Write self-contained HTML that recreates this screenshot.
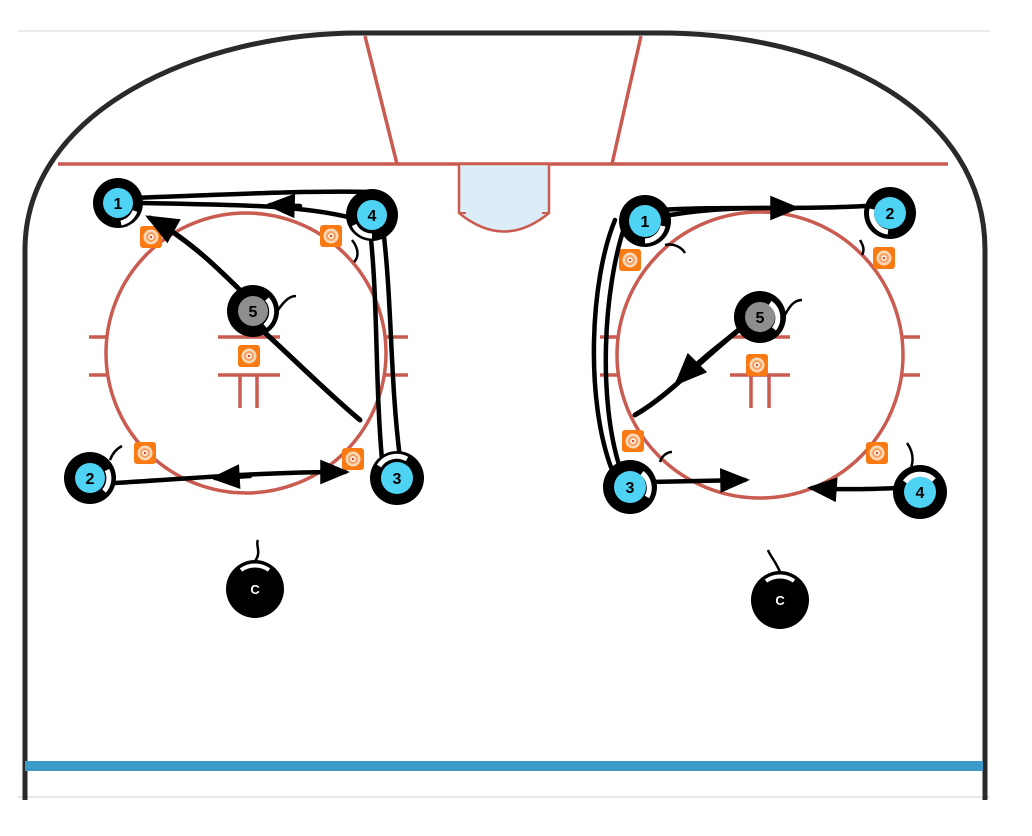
<!DOCTYPE html>
<html><head><meta charset="utf-8"><style>
html,body{margin:0;padding:0;background:#fff;width:1032px;height:836px;overflow:hidden}
svg{display:block}
text{font-family:"Liberation Sans",sans-serif;font-weight:bold}
</style></head><body>
<svg width="1032" height="836" viewBox="0 0 1032 836">
<defs>
<g id="cone"><rect x="-11" y="-11" width="22" height="22" rx="3" fill="#f97a12"/><circle r="7.5" fill="#fbd9b8"/><circle r="5" fill="#f5a060"/><circle r="2.8" fill="#fff"/><circle r="1.3" fill="#e0501a"/></g>
<marker id="ah" viewBox="0 0 12 10" refX="10" refY="5" markerWidth="7" markerHeight="5.5" orient="auto-start-reverse"><path d="M0,0 L12,5 L0,10 z" fill="#000"/></marker>
</defs>
<line x1="18" y1="31" x2="990" y2="31" stroke="#e6e6e6" stroke-width="1.5"/>
<line x1="18" y1="797" x2="990" y2="797" stroke="#e0e0e0" stroke-width="1.5"/>
<path d="M25,800 L25,250 C25,110 200,33 360,33 L660,33 C830,33 985,110 985,250 L985,800" fill="none" stroke="#2a2a2a" stroke-width="5"/>
<rect x="25" y="761" width="958" height="10" fill="#3d9ac8"/>
<g stroke="#c95b50" stroke-width="3.5" fill="none">
<line x1="58" y1="164" x2="948" y2="164"/>
<line x1="365" y1="36" x2="397" y2="164"/>
<line x1="641" y1="36" x2="612" y2="164"/>
<circle cx="246" cy="353" r="140"/>
<line x1="89" y1="337" x2="107" y2="337"/><line x1="89" y1="375" x2="107" y2="375"/>
<line x1="385" y1="337" x2="408" y2="337"/><line x1="385" y1="375" x2="408" y2="375"/>
<line x1="218" y1="337" x2="280" y2="337"/><line x1="218" y1="375" x2="280" y2="375"/>
<line x1="240" y1="375" x2="240" y2="408"/><line x1="257" y1="375" x2="257" y2="408"/>
<circle cx="760" cy="355" r="143"/>
<line x1="600" y1="337" x2="618" y2="337"/><line x1="600" y1="375" x2="618" y2="375"/>
<line x1="903" y1="337" x2="920" y2="337"/><line x1="903" y1="375" x2="920" y2="375"/>
<line x1="730" y1="337" x2="790" y2="337"/><line x1="730" y1="375" x2="790" y2="375"/>
<line x1="751" y1="375" x2="751" y2="408"/><line x1="769" y1="375" x2="769" y2="408"/>
</g>
<path d="M459,164 L459,213 Q504,250 549,213 L549,164 Z" fill="#dcedf8" stroke="#c95b50" stroke-width="2.5"/>
<path d="M459,213 L466,213 M549,213 L542,213" stroke="#c95b50" stroke-width="2"/>
<use href="#cone" x="151" y="237"/><use href="#cone" x="331" y="236"/><use href="#cone" x="249" y="356"/><use href="#cone" x="145" y="453"/><use href="#cone" x="353" y="459"/>
<use href="#cone" x="630" y="260"/><use href="#cone" x="884" y="258"/><use href="#cone" x="757" y="365"/><use href="#cone" x="633" y="441"/><use href="#cone" x="877" y="453"/>
<g stroke="#000" stroke-width="4.5" fill="none" stroke-linecap="round">
<path d="M372,192 C300,190 200,196 130,198"/>
<path d="M352,218 C300,205 240,205 142,203"/>
<path d="M300,206 L270,205" marker-end="url(#ah)"/>
<path d="M250,300 C220,270 190,240 150,218" marker-end="url(#ah)" stroke-width="5"/>
<path d="M262,330 C300,365 330,395 360,420" stroke-width="5"/>
<path d="M370,230 C378,300 375,380 382,460"/>
<path d="M383,228 C392,300 390,380 400,458"/>
<path d="M115,483 C200,478 260,472 345,472" marker-end="url(#ah)"/>
<path d="M250,476 L215,478" marker-end="url(#ah)"/>
</g>
<g stroke="#000" stroke-width="4.5" fill="none" stroke-linecap="round">
<path d="M660,210 C720,206 800,210 865,206"/>
<path d="M670,215 C720,207 760,208 795,208" marker-end="url(#ah)"/>
<path d="M745,325 C700,360 670,395 635,415" stroke-width="5"/>
<path d="M745,325 C720,345 700,360 678,382" marker-end="url(#ah)" stroke-width="5"/>
<path d="M615,220 C590,280 585,400 612,470"/>
<path d="M625,225 C603,290 598,400 620,468"/>
<path d="M650,482 L745,480" marker-end="url(#ah)"/>
<path d="M900,488 C870,489 840,490 812,488" marker-end="url(#ah)"/>
</g>
<g font-size="16" text-anchor="middle">
<g transform="translate(118,203)"><circle r="25" fill="#000"/><circle r="15" fill="#4ed3f5"/><path d="M17,8 A19,19 0 0 1 3,20" stroke="#fff" stroke-width="5" fill="none"/><text y="6">1</text></g>
<g transform="translate(372,215)"><circle r="26" fill="#000"/><circle r="15" fill="#4ed3f5"/><path d="M-18,10 A20,20 0 0 0 0,21" stroke="#fff" stroke-width="5" fill="none"/><text y="6">4</text></g>
<g transform="translate(253,311)"><circle r="26" fill="#000"/><circle r="15" fill="#8e8e8e"/><path d="M14,-12 A19,19 0 0 1 12,15" stroke="#fff" stroke-width="5" fill="none"/><text y="6">5</text></g>
<g transform="translate(90,478)"><circle r="26" fill="#000"/><circle r="15" fill="#4ed3f5"/><path d="M17,-8 A19,19 0 0 1 14,13" stroke="#fff" stroke-width="5" fill="none"/><text y="6">2</text></g>
<g transform="translate(397,478)"><circle r="27" fill="#000"/><circle r="16" fill="#4ed3f5"/><path d="M-18,-12 A21,21 0 0 1 10,-19" stroke="#fff" stroke-width="5" fill="none"/><text y="6">3</text></g>
<g transform="translate(645,221)"><circle r="26" fill="#000"/><circle r="16" fill="#4ed3f5"/><path d="M18,5 A19,19 0 0 1 0,20" stroke="#fff" stroke-width="5" fill="none"/><text y="6">1</text></g>
<g transform="translate(890,213)"><circle r="26" fill="#000"/><circle r="16" fill="#4ed3f5"/><path d="M-18,-4 A19,19 0 0 0 -2,19" stroke="#fff" stroke-width="5" fill="none"/><text y="6">2</text></g>
<g transform="translate(760,317)"><circle r="26" fill="#000"/><circle r="15" fill="#8e8e8e"/><path d="M10,-14 A18,18 0 0 1 14,12" stroke="#fff" stroke-width="5" fill="none"/><text y="6">5</text></g>
<g transform="translate(630,487)"><circle r="27" fill="#000"/><circle r="16" fill="#4ed3f5"/><path d="M12,-14 A19,19 0 0 1 17,10" stroke="#fff" stroke-width="5" fill="none"/><text y="6">3</text></g>
<g transform="translate(920,492)"><circle r="27" fill="#000"/><circle r="16" fill="#4ed3f5"/><path d="M-15,-10 A19,19 0 0 1 14,-12" stroke="#fff" stroke-width="5" fill="none"/><text y="6">4</text></g>
<g transform="translate(255,589)"><circle r="29" fill="#000"/><path d="M-14,-19 A24,24 0 0 1 14,-19" stroke="#fff" stroke-width="4" fill="none"/><text y="5" fill="#fff" font-size="13">C</text></g>
<g transform="translate(780,600)"><circle r="29" fill="#000"/><path d="M-14,-19 A24,24 0 0 1 14,-19" stroke="#fff" stroke-width="4" fill="none"/><text y="5" fill="#fff" font-size="13">C</text></g>
</g>
<g stroke="#000" stroke-width="2.5" fill="none">
<path d="M278,310 C285,300 290,296 296,296"/>
<path d="M785,315 C790,305 795,300 802,300"/>
<path d="M255,561 C262,552 255,545 258,540"/>
<path d="M780,572 C775,560 770,556 768,550"/>
<path d="M910,470 C915,460 912,450 907,443"/>
<path d="M660,462 C662,455 668,452 672,452"/>
<path d="M665,245 C675,243 682,248 685,253"/>
<path d="M860,240 C863,245 865,250 862,255"/>
<path d="M352,240 C360,250 358,258 354,262"/>
<path d="M110,460 C113,452 118,448 122,446"/>
</g>
</svg>
</body></html>
